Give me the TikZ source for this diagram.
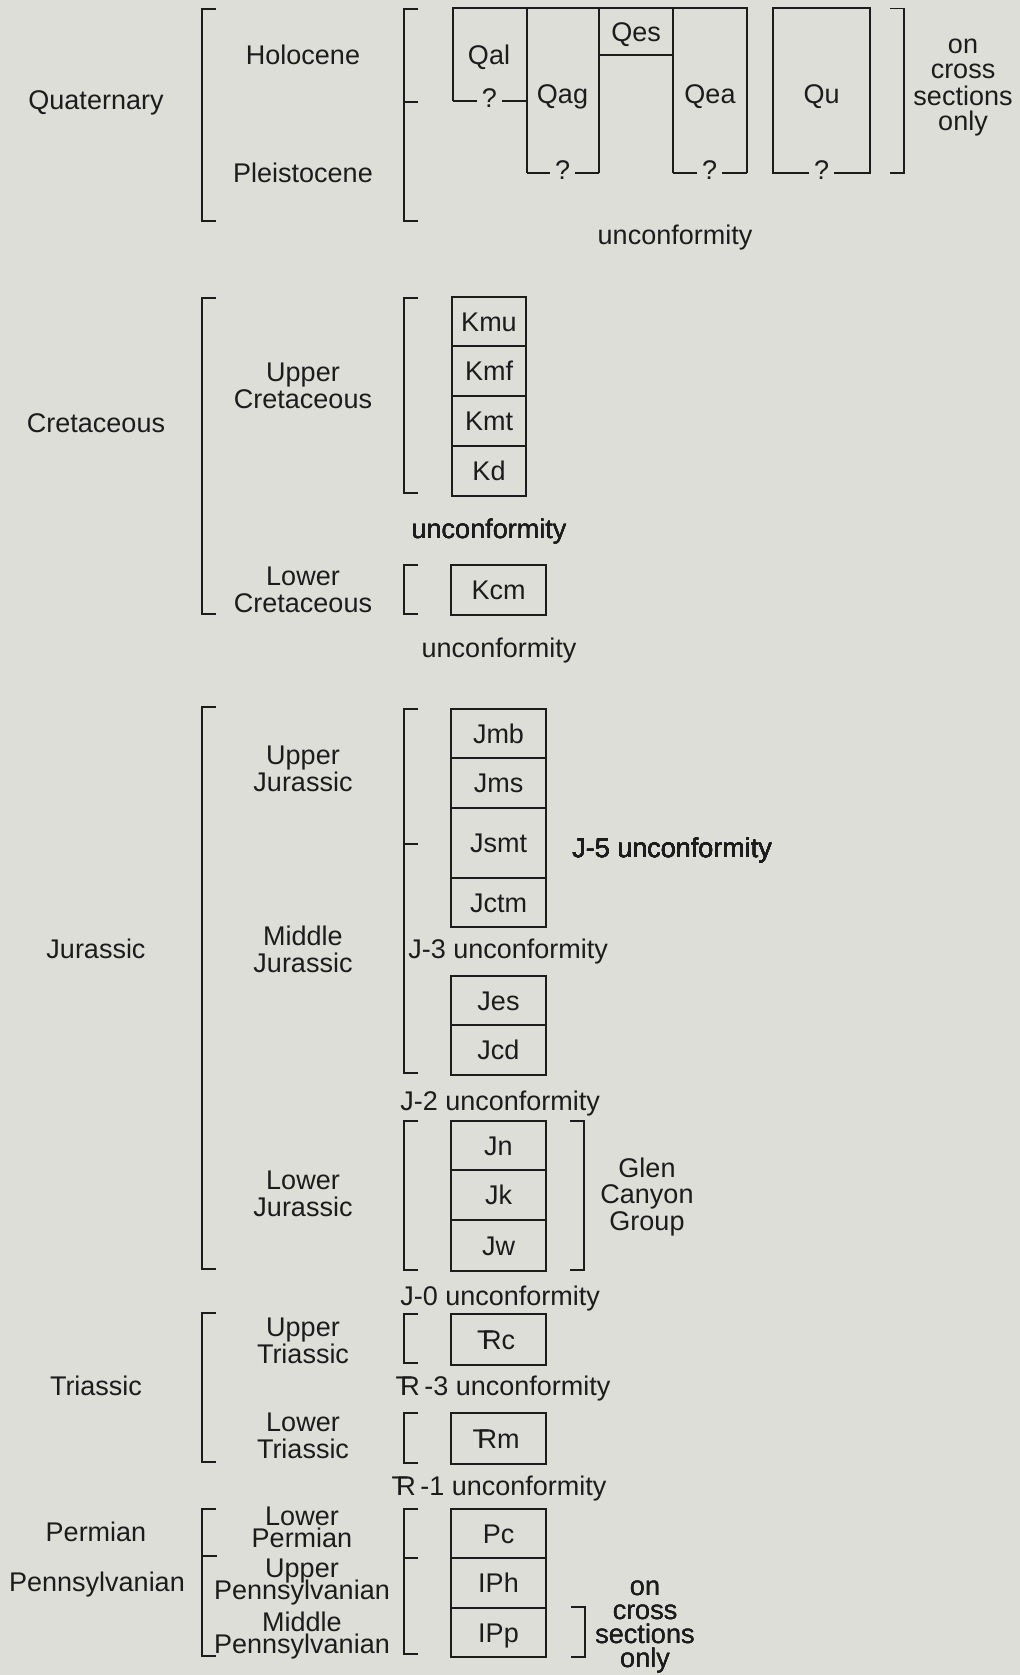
\documentclass[tikz,border=0pt]{standalone}
\usepackage{fontspec}
\setmainfont{Liberation Sans}
\usetikzlibrary{positioning}
\definecolor{PaperGray}{RGB}{221,222,215}
\definecolor{InkBlack}{RGB}{28,28,28}

% Triassic symbol (T struck over R)
\newcommand{\Trsym}{\makebox[0pt][l]{\hspace{-0.18em}T}R}
% closely set lines, no extra gap for descenders
\newcommand{\tightlines}{\fontsize{13.5}{10.75}\selectfont\lineskiplimit=-100pt\relax}
% brackets: x, top, bottom
\newcommand{\lbrak}[3]{\draw[brak] (#1+14,#2) -- (#1,#2) -- (#1,#3) -- (#1+14,#3);}
\newcommand{\rbrak}[3]{\draw[brak] (#1-14,#2) -- (#1,#2) -- (#1,#3) -- (#1-14,#3);}
% unit box: name, label, left, top, right, bottom
\newcommand{\unitbox}[6]{\node[bedbox, minimum width={(#5-#3)*0.5pt}, minimum height={(#6-#4)*0.5pt}] (#1) at ({(#3+#5)/2},{(#4+#6)/2}) {#2};}

\tikzset{
  bedbox/.style={draw=InkBlack, line width=1pt, inner sep=0pt, text height=9.7pt, text depth=0pt},
  bedlbl/.style={inner sep=0pt, text height=9.7pt, text depth=0pt},
  bedline/.style={draw=InkBlack, line width=1pt},
  qmark/.style={fill=PaperGray, inner xsep=2.5pt, inner ysep=0.5pt, anchor=base},
  brak/.style={draw=InkBlack, line width=0.7pt},
  lbl/.style={inner sep=0pt, anchor=base, align=center},
  tight/.style={font=\tightlines},
}

\begin{document}
\begin{tikzpicture}[x=0.5pt, y=-0.5pt,
    every node/.style={text=InkBlack, font=\fontsize{13.5}{13.5}\selectfont}]
    % page
    \fill[PaperGray] (0,0) rectangle (1020,1675);
    \useasboundingbox (0,0) rectangle (1020,1675);

    % Systems (left column)
    \node[lbl] (quat) at (96,110) {Quaternary};
    \node[lbl] (cret) at (96,432) {Cretaceous};
    \node[lbl] (jur) at (96,958) {Jurassic};
    \node[lbl] (tri) at (96,1395) {Triassic};
    \node[lbl] (perm) at (96,1541) {Permian};
    \node[lbl] (penn) at (97,1591) {Pennsylvanian};

    \lbrak{202}{9}{221}
    \lbrak{202}{298}{614}
    \lbrak{202}{707}{1269}
    \lbrak{202}{1313}{1462}
    \lbrak{202}{1509}{1656}
    \draw[brak] (202,1556) -- +(15,0);

    % Series (multi-line labels sit on their last line)
    \node[lbl] (holo) at (303,65) {Holocene};
    \node[lbl] (pleis) at (303,182) {Pleistocene};
    \node[lbl] (ucret) at (303,408) {Upper\\Cretaceous};
    \node[lbl] (lcret) at (303,612) {Lower\\Cretaceous};
    \node[lbl] (ujur) at (303,791) {Upper\\Jurassic};
    \node[lbl] (mjur) at (303,972) {Middle\\Jurassic};
    \node[lbl] (ljur) at (303,1216) {Lower\\Jurassic};
    \node[lbl] (utri) at (303,1363) {Upper\\Triassic};
    \node[lbl] (ltri) at (303,1458) {Lower\\Triassic};
    \node[lbl, tight] (lperm) at (302,1547) {Lower\\Permian};
    \node[lbl, tight] (upenn) at (302,1599) {Upper\\Pennsylvanian};
    \node[lbl, tight] (mpenn) at (302,1653) {Middle\\Pennsylvanian};

    \lbrak{404}{9}{221}
    \draw[brak] (404,102) -- +(14,0);
    \lbrak{404}{298}{493}
    \lbrak{404}{565}{614}
    \lbrak{404}{709}{1073}
    \draw[brak] (404,844) -- +(14,0);
    \lbrak{404}{1121}{1270}
    \lbrak{404}{1314}{1363}
    \lbrak{404}{1413}{1463}
    \lbrak{404}{1509}{1654}
    \draw[brak] (404,1558) -- +(14,0);

    % Quaternary deposits, open at the base
    \draw[bedline] (453,101.5) -- (453,8.5) -- (746.5,8.5) -- (746.5,173);
    \draw[bedline] (526.5,8.5) -- (526.5,173);
    \draw[bedline] (599,8.5) -- (599,173);
    \draw[bedline] (673,8.5) -- (673,173);
    \draw[bedline] (599,55.5) -- (673,55.5);
    \draw[bedline] (453,101.5) -- (526.5,101.5);
    \draw[bedline] (526.5,173) -- (599,173);
    \draw[bedline] (673,173) -- (746.5,173);
    \draw[bedline] (773,8.5) rectangle (870,173);

    \node[bedlbl] (qal) at (489,54.5) {Qal};
    \node[bedlbl] (qag) at (562.5,94) {Qag};
    \node[bedlbl] (qes) at (636,32) {Qes};
    \node[bedlbl] (qea) at (710,94) {Qea};
    \node[bedlbl] (qu) at (821.5,94) {Qu};
    \node[qmark] (qalq) at (489.5,108) {?};
    \node[qmark] (qagq) at (562.5,179.5) {?};
    \node[qmark] (qeaq) at (709.5,179.5) {?};
    \node[qmark] (quq) at (821.5,179.5) {?};

    \rbrak{904}{8.5}{173}
    \node[lbl, font=\fontsize{13.5}{13}\selectfont] (onq) at (963,131) {on\\cross\\sections\\only};
    \node[lbl] (uncq) at (675,244) {unconformity};

    % Cretaceous units
    \foreach \nm/\lb/\tp/\bt in {kmu/Kmu/297/346, kmf/Kmf/346/396, kmt/Kmt/396/446, kd/Kd/446/496}
        \unitbox{\nm}{\lb}{452}{\tp}{526}{\bt}
    \node[lbl] (unck) at (489,538) {unconformity};
    \unitbox{kcm}{Kcm}{451}{565}{546}{615}
    \node[lbl] (unckc) at (499,657) {unconformity};

    % Jurassic units
    \foreach \nm/\lb/\tp/\bt in {jmb/Jmb/709/758, jms/Jms/758/808, jsmt/Jsmt/808/878, jctm/Jctm/878/927,
                                jes/Jes/976/1025, jcd/Jcd/1025/1075,
                                jn/Jn/1121/1170, jk/Jk/1170/1220, jw/Jw/1220/1271}
        \unitbox{\nm}{\lb}{451}{\tp}{546}{\bt}
    \node[lbl, anchor=base west] (jfive) at (572,857) {J-5 unconformity};
    \node[lbl, anchor=base west] (jthree) at (408,958) {J-3 unconformity};
    \node[lbl, anchor=base west] (jtwo) at (400,1110) {J-2 unconformity};
    \rbrak{584}{1121}{1270}
    \node[lbl, font=\fontsize{13.5}{13.25}\selectfont] (glen) at (647,1230) {Glen\\Canyon\\Group};
    \node[lbl, anchor=base west] (jzero) at (400,1305) {J-0 unconformity};

    % Triassic units
    \unitbox{trc}{\Trsym c}{451}{1314}{546}{1365}
    \node[lbl, anchor=base west] (trthree) at (400,1395) {\Trsym\,-3 unconformity};
    \unitbox{trm}{\Trsym m}{451}{1413}{546}{1464}
    \node[lbl, anchor=base west] (trone) at (396,1495) {\Trsym\,-1 unconformity};

    % Permian and Pennsylvanian units
    \foreach \nm/\lb/\tp/\bt in {pc/Pc/1509/1558, iph/IPh/1558/1608, ipp/IPp/1608/1657}
        \unitbox{\nm}{\lb}{451}{\tp}{546}{\bt}
    \rbrak{585}{1607}{1657}
    \node[lbl, font=\fontsize{13.5}{12}\selectfont] (onp) at (645,1667) {on\\cross\\sections\\only};
\end{tikzpicture}
\end{document}
